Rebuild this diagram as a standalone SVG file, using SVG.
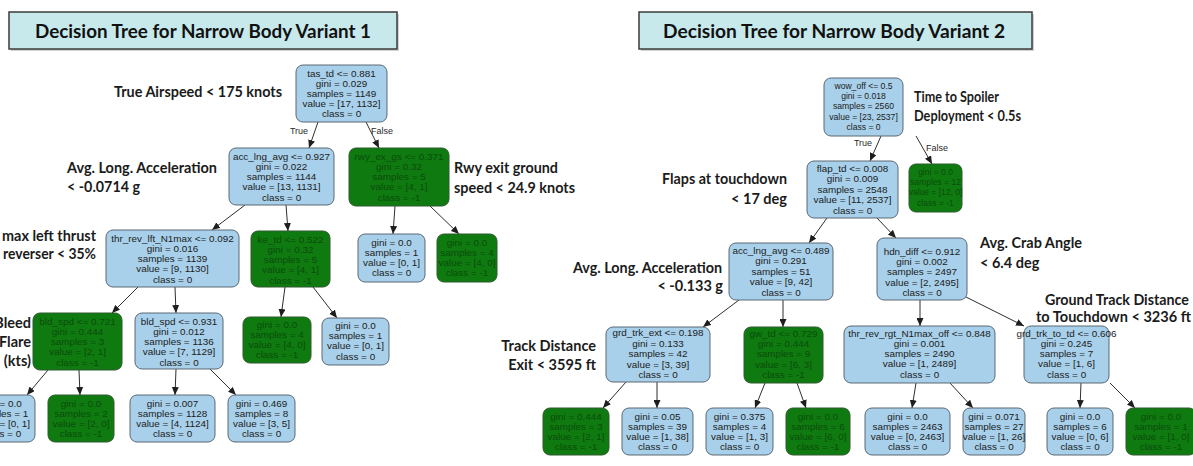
<svg xmlns="http://www.w3.org/2000/svg" width="1193" height="466" viewBox="0 0 1193 466">
  <defs>
    <marker id="arrow" markerUnits="userSpaceOnUse" markerWidth="8" markerHeight="7" refX="8" refY="3.5" orient="auto">
      <path d="M0,0 L8,3.5 L0,7 z" fill="#1e1e1e"/>
    </marker>
    <style>
      .title-box { fill: #c7e9ec; stroke: #3b3b3b; stroke-width: 1.5; }
      .title-shadow { fill: #9a9a9a; opacity: 0.45; }
      .title { font-family: Lato, "Open Sans", sans-serif; font-weight: 700; font-size: 18px; fill: #111; text-anchor: middle; }
      .ann { font-family: Lato, "Open Sans", sans-serif; font-weight: 700; font-size: 14.5px; fill: #1b1b1b; }
      .nb { fill: #a8d0ea; stroke: #5a6874; stroke-width: 1; }
      .ng { fill: #0f7a10; stroke: #2f5a2f; stroke-width: 1; }
      .t { font-family: "Liberation Sans", Arial, sans-serif; font-size: 9.9px; fill: #1c1c1c; text-anchor: middle; }
      .tg { font-family: "Liberation Sans", Arial, sans-serif; font-size: 9.9px; fill: #0a4d0b; text-anchor: middle; }
      .el { font-family: "Liberation Sans", Arial, sans-serif; font-size: 9px; fill: #2a2a2a; text-anchor: middle; }
      .edge { stroke: #2e2e2e; stroke-width: 1; fill: none; marker-end: url(#arrow); }
    </style>
  </defs>

  <rect width="1193" height="466" fill="#ffffff"/>

  <!-- Titles -->
  <g id="title-1">
    <rect class="title-shadow" x="11" y="14" width="388" height="37"/>
    <rect class="title-box" x="9" y="12" width="388" height="37"/>
    <text class="title" x="203" y="38" textLength="336" lengthAdjust="spacingAndGlyphs">Decision Tree for Narrow Body Variant 1</text>
  </g>
  <g id="title-2">
    <rect class="title-shadow" x="641" y="14" width="393" height="37"/>
    <rect class="title-box" x="639" y="12" width="393" height="37"/>
    <text class="title" x="834" y="38" textLength="342" lengthAdjust="spacingAndGlyphs">Decision Tree for Narrow Body Variant 2</text>
  </g>

  <!-- Split annotations -->
  <g id="annotations">
    <text class="ann" x="114" y="97" textLength="168" lengthAdjust="spacingAndGlyphs">True Airspeed &lt; 175 knots</text>
    <text class="ann" x="67" y="173" textLength="150" lengthAdjust="spacingAndGlyphs">Avg. Long. Acceleration</text>
    <text class="ann" x="67" y="192" textLength="73" lengthAdjust="spacingAndGlyphs">&lt; -0.0714 g</text>
    <text class="ann" x="454" y="173" textLength="104" lengthAdjust="spacingAndGlyphs">Rwy exit ground</text>
    <text class="ann" x="454" y="193" textLength="121" lengthAdjust="spacingAndGlyphs">speed &lt; 24.9 knots</text>
    <text class="ann" x="2" y="241" textLength="94" lengthAdjust="spacingAndGlyphs">max left thrust</text>
    <text class="ann" x="3" y="259" textLength="93" lengthAdjust="spacingAndGlyphs">reverser &lt; 35%</text>
    <text class="ann" x="31" y="328" text-anchor="end">Bleed</text>
    <text class="ann" x="31" y="347" text-anchor="end">Flare</text>
    <text class="ann" x="31" y="366" text-anchor="end">(kts)</text>

    <text class="ann" x="914" y="102" textLength="85" lengthAdjust="spacingAndGlyphs">Time to Spoiler</text>
    <text class="ann" x="914" y="121" textLength="107" lengthAdjust="spacingAndGlyphs">Deployment &lt; 0.5s</text>
    <text class="ann" x="662" y="184" textLength="125" lengthAdjust="spacingAndGlyphs">Flaps at touchdown</text>
    <text class="ann" x="787" y="204" text-anchor="end">&lt; 17 deg</text>
    <text class="ann" x="573" y="273" textLength="149" lengthAdjust="spacingAndGlyphs">Avg. Long. Acceleration</text>
    <text class="ann" x="723" y="291" text-anchor="end">&lt; -0.133 g</text>
    <text class="ann" x="980" y="248" textLength="102" lengthAdjust="spacingAndGlyphs">Avg. Crab Angle</text>
    <text class="ann" x="980" y="268">&lt; 6.4 deg</text>
    <text class="ann" x="1045" y="305" textLength="144" lengthAdjust="spacingAndGlyphs">Ground Track Distance</text>
    <text class="ann" x="1036" y="322" textLength="155" lengthAdjust="spacingAndGlyphs">to Touchdown &lt; 3236 ft</text>
    <text class="ann" x="596" y="351" text-anchor="end">Track Distance</text>
    <text class="ann" x="596" y="370" text-anchor="end">Exit &lt; 3595 ft</text>
  </g>

  <!-- Connectors -->
  <g id="connectors">
    <line class="edge" x1="318" y1="122" x2="309" y2="148"/>
    <line class="edge" x1="366" y1="122" x2="379" y2="148"/>
    <line class="edge" x1="245" y1="205" x2="212" y2="230"/>
    <line class="edge" x1="286" y1="205" x2="288" y2="231"/>
    <line class="edge" x1="395" y1="206" x2="393" y2="234"/>
    <line class="edge" x1="430" y1="206" x2="459" y2="234"/>
    <line class="edge" x1="138" y1="287" x2="112" y2="313"/>
    <line class="edge" x1="175" y1="287" x2="176" y2="313"/>
    <line class="edge" x1="285" y1="287" x2="281" y2="317"/>
    <line class="edge" x1="313" y1="287" x2="337" y2="318"/>
    <line class="edge" x1="48" y1="370" x2="27" y2="395"/>
    <line class="edge" x1="79" y1="370" x2="80" y2="395"/>
    <line class="edge" x1="176" y1="369" x2="175" y2="395"/>
    <line class="edge" x1="210" y1="369" x2="236" y2="395"/>

    <line class="edge" x1="881" y1="136" x2="870" y2="161"/>
    <line class="edge" x1="916" y1="136" x2="932" y2="164"/>
    <line class="edge" x1="827" y1="218" x2="809" y2="243"/>
    <line class="edge" x1="877" y1="218" x2="896" y2="238"/>
    <line class="edge" x1="739" y1="300" x2="703" y2="327"/>
    <line class="edge" x1="783" y1="300" x2="783" y2="327"/>
    <line class="edge" x1="920" y1="300" x2="920" y2="326"/>
    <line class="edge" x1="966" y1="297" x2="1024" y2="326"/>
    <line class="edge" x1="626" y1="382" x2="603" y2="408"/>
    <line class="edge" x1="657" y1="382" x2="657" y2="408"/>
    <line class="edge" x1="765" y1="383" x2="755" y2="408"/>
    <line class="edge" x1="797" y1="383" x2="806" y2="408"/>
    <line class="edge" x1="916" y1="383" x2="912" y2="408"/>
    <line class="edge" x1="950" y1="383" x2="973" y2="408"/>
    <line class="edge" x1="1081" y1="383" x2="1080" y2="408"/>
    <line class="edge" x1="1110" y1="383" x2="1135" y2="408"/>

    <text class="el" x="299" y="134">True</text>
    <text class="el" x="382" y="134">False</text>
    <text class="el" x="863" y="146">True</text>
    <text class="el" x="937" y="151">False</text>
  </g>

  <!-- Variant 1 tree -->
  <g id="v1-root">
    <rect class="nb" x="296" y="65" width="91" height="57" rx="7"/>
    <text class="t" x="341.5" y="76.5">tas_td &lt;= 0.881<tspan x="341.5" dy="10.2">gini = 0.029</tspan><tspan x="341.5" dy="10.2">samples = 1149</tspan><tspan x="341.5" dy="10.2">value = [17, 1132]</tspan><tspan x="341.5" dy="10.2">class = 0</tspan></text>
  </g>
  <g id="v1-acc-lng-avg">
    <rect class="nb" x="229" y="148" width="105" height="57" rx="7"/>
    <text class="t" x="281.5" y="159.5">acc_lng_avg &lt;= 0.927<tspan x="281.5" dy="10.3">gini = 0.022</tspan><tspan x="281.5" dy="10.3">samples = 1144</tspan><tspan x="281.5" dy="10.3">value = [13, 1131]</tspan><tspan x="281.5" dy="10.3">class = 0</tspan></text>
  </g>
  <g id="v1-rwy-ex-gs">
    <rect class="ng" x="349" y="148" width="100" height="58" rx="7"/>
    <text class="tg" x="399" y="159.5">rwy_ex_gs &lt;= 0.371<tspan x="399" dy="10.3">gini = 0.32</tspan><tspan x="399" dy="10.3">samples = 5</tspan><tspan x="399" dy="10.3">value = [4, 1]</tspan><tspan x="399" dy="10.3">class = -1</tspan></text>
  </g>
  <g id="v1-thr-rev-lft">
    <rect class="nb" x="106" y="230" width="133" height="57" rx="7"/>
    <text class="t" x="172.5" y="241.5">thr_rev_lft_N1max &lt;= 0.092<tspan x="172.5" dy="10.3">gini = 0.016</tspan><tspan x="172.5" dy="10.3">samples = 1139</tspan><tspan x="172.5" dy="10.3">value = [9, 1130]</tspan><tspan x="172.5" dy="10.3">class = 0</tspan></text>
  </g>
  <g id="v1-ke-td">
    <rect class="ng" x="251" y="231" width="79" height="56" rx="7"/>
    <text class="tg" x="290.5" y="242.5">ke_td &lt;= 0.522<tspan x="290.5" dy="10.3">gini = 0.32</tspan><tspan x="290.5" dy="10.3">samples = 5</tspan><tspan x="290.5" dy="10.3">value = [4, 1]</tspan><tspan x="290.5" dy="10.3">class = -1</tspan></text>
  </g>
  <g id="v1-leaf-rwy-a">
    <rect class="nb" x="358" y="234" width="67" height="48" rx="7"/>
    <text class="t" x="391.5" y="245.5">gini = 0.0<tspan x="391.5" dy="10.2">samples = 1</tspan><tspan x="391.5" dy="10.2">value = [0, 1]</tspan><tspan x="391.5" dy="10.2">class = 0</tspan></text>
  </g>
  <g id="v1-leaf-rwy-b">
    <rect class="ng" x="437" y="234" width="60" height="48" rx="7"/>
    <text class="tg" x="467" y="245.5">gini = 0.0<tspan x="467" dy="10.2">samples = 4</tspan><tspan x="467" dy="10.2">value = [4, 0]</tspan><tspan x="467" dy="10.2">class = -1</tspan></text>
  </g>
  <g id="v1-leaf-ke-a">
    <rect class="ng" x="243" y="317" width="68" height="46" rx="7"/>
    <text class="tg" x="277" y="327.5">gini = 0.0<tspan x="277" dy="10.2">samples = 4</tspan><tspan x="277" dy="10.2">value = [4, 0]</tspan><tspan x="277" dy="10.2">class = -1</tspan></text>
  </g>
  <g id="v1-leaf-ke-b">
    <rect class="nb" x="322" y="318" width="67" height="47" rx="7"/>
    <text class="t" x="355.5" y="329">gini = 0.0<tspan x="355.5" dy="10.2">samples = 1</tspan><tspan x="355.5" dy="10.2">value = [0, 1]</tspan><tspan x="355.5" dy="10.2">class = 0</tspan></text>
  </g>
  <g id="v1-bld-spd-a">
    <rect class="ng" x="33" y="313" width="89" height="57" rx="7"/>
    <text class="tg" x="77.5" y="324.5">bld_spd &lt;= 0.721<tspan x="77.5" dy="10.3">gini = 0.444</tspan><tspan x="77.5" dy="10.3">samples = 3</tspan><tspan x="77.5" dy="10.3">value = [2, 1]</tspan><tspan x="77.5" dy="10.3">class = -1</tspan></text>
  </g>
  <g id="v1-bld-spd-b">
    <rect class="nb" x="135" y="313" width="88" height="56" rx="7"/>
    <text class="t" x="179" y="324.5">bld_spd &lt;= 0.931<tspan x="179" dy="10.3">gini = 0.012</tspan><tspan x="179" dy="10.3">samples = 1136</tspan><tspan x="179" dy="10.3">value = [7, 1129]</tspan><tspan x="179" dy="10.3">class = 0</tspan></text>
  </g>
  <g id="v1-leaf-bld-a1">
    <rect class="nb" x="-32" y="395" width="67" height="47" rx="7"/>
    <text class="t" x="1.5" y="406.5">gini = 0.0<tspan x="1.5" dy="10.2">samples = 1</tspan><tspan x="1.5" dy="10.2">value = [0, 1]</tspan><tspan x="1.5" dy="10.2">class = 0</tspan></text>
  </g>
  <g id="v1-leaf-bld-a2">
    <rect class="ng" x="48" y="395" width="66" height="47" rx="7"/>
    <text class="tg" x="81" y="406.5">gini = 0.0<tspan x="81" dy="10.2">samples = 2</tspan><tspan x="81" dy="10.2">value = [2, 0]</tspan><tspan x="81" dy="10.2">class = -1</tspan></text>
  </g>
  <g id="v1-leaf-bld-b1">
    <rect class="nb" x="130" y="395" width="85" height="47" rx="7"/>
    <text class="t" x="172.5" y="406.5">gini = 0.007<tspan x="172.5" dy="10.2">samples = 1128</tspan><tspan x="172.5" dy="10.2">value = [4, 1124]</tspan><tspan x="172.5" dy="10.2">class = 0</tspan></text>
  </g>
  <g id="v1-leaf-bld-b2">
    <rect class="nb" x="228" y="395" width="67" height="47" rx="7"/>
    <text class="t" x="261.5" y="406.5">gini = 0.469<tspan x="261.5" dy="10.2">samples = 8</tspan><tspan x="261.5" dy="10.2">value = [3, 5]</tspan><tspan x="261.5" dy="10.2">class = 0</tspan></text>
  </g>

  <!-- Variant 2 tree -->
  <g id="v2-root">
    <rect class="nb" x="824" y="78" width="79" height="58" rx="7"/>
    <text class="t" style="font-size:8.6px" x="863.5" y="89">wow_off &lt;= 0.5<tspan x="863.5" dy="10.2">gini = 0.018</tspan><tspan x="863.5" dy="10.2">samples = 2560</tspan><tspan x="863.5" dy="10.2">value = [23, 2537]</tspan><tspan x="863.5" dy="10.2">class = 0</tspan></text>
  </g>
  <g id="v2-flap-td">
    <rect class="nb" x="807" y="161" width="91" height="57" rx="7"/>
    <text class="t" x="852.5" y="171.5">flap_td &lt;= 0.008<tspan x="852.5" dy="10.6">gini = 0.009</tspan><tspan x="852.5" dy="10.6">samples = 2548</tspan><tspan x="852.5" dy="10.6">value = [11, 2537]</tspan><tspan x="852.5" dy="10.6">class = 0</tspan></text>
  </g>
  <g id="v2-leaf-root-b">
    <rect class="ng" x="909" y="164" width="53" height="48" rx="7"/>
    <text class="tg" style="font-size:8.5px" x="935.5" y="175">gini = 0.0<tspan x="935.5" dy="10.2">samples = 12</tspan><tspan x="935.5" dy="10.2">value = [12, 0]</tspan><tspan x="935.5" dy="10.2">class = -1</tspan></text>
  </g>
  <g id="v2-acc-lng-avg">
    <rect class="nb" x="729" y="243" width="104" height="57" rx="7"/>
    <text class="t" x="781" y="253.5">acc_lng_avg &lt;= 0.489<tspan x="781" dy="10.6">gini = 0.291</tspan><tspan x="781" dy="10.6">samples = 51</tspan><tspan x="781" dy="10.6">value = [9, 42]</tspan><tspan x="781" dy="10.6">class = 0</tspan></text>
  </g>
  <g id="v2-hdn-diff">
    <rect class="nb" x="877" y="238" width="90" height="62" rx="7"/>
    <text class="t" x="922" y="254.5">hdn_diff &lt;= 0.912<tspan x="922" dy="10.4">gini = 0.002</tspan><tspan x="922" dy="10.4">samples = 2497</tspan><tspan x="922" dy="10.4">value = [2, 2495]</tspan><tspan x="922" dy="10.4">class = 0</tspan></text>
  </g>
  <g id="v2-grd-trk-ext">
    <rect class="nb" x="606" y="327" width="104" height="55" rx="7"/>
    <text class="t" x="658" y="336.3">grd_trk_ext &lt;= 0.198<tspan x="658" dy="10.4">gini = 0.133</tspan><tspan x="658" dy="10.4">samples = 42</tspan><tspan x="658" dy="10.4">value = [3, 39]</tspan><tspan x="658" dy="10.4">class = 0</tspan></text>
  </g>
  <g id="v2-gw-td">
    <rect class="ng" x="744" y="327" width="79" height="56" rx="7"/>
    <text class="tg" x="783.5" y="336.5">gw_td &lt;= 0.729<tspan x="783.5" dy="10.4">gini = 0.444</tspan><tspan x="783.5" dy="10.4">samples = 9</tspan><tspan x="783.5" dy="10.4">value = [6, 3]</tspan><tspan x="783.5" dy="10.4">class = -1</tspan></text>
  </g>
  <g id="v2-thr-rev-rgt">
    <rect class="nb" x="844" y="326" width="151" height="57" rx="7"/>
    <text class="t" x="919.5" y="336.5">thr_rev_rgt_N1max_off &lt;= 0.848<tspan x="919.5" dy="10.3">gini = 0.001</tspan><tspan x="919.5" dy="10.3">samples = 2490</tspan><tspan x="919.5" dy="10.3">value = [1, 2489]</tspan><tspan x="919.5" dy="10.3">class = 0</tspan></text>
  </g>
  <g id="v2-grd-trk-to-td">
    <rect class="nb" x="1024" y="326" width="85" height="57" rx="7"/>
    <text class="t" x="1066.5" y="336.5">grd_trk_to_td &lt;= 0.606<tspan x="1066.5" dy="10.3">gini = 0.245</tspan><tspan x="1066.5" dy="10.3">samples = 7</tspan><tspan x="1066.5" dy="10.3">value = [1, 6]</tspan><tspan x="1066.5" dy="10.3">class = 0</tspan></text>
  </g>
  <g id="v2-leaf-1">
    <rect class="ng" x="543" y="408" width="66" height="47" rx="7"/>
    <text class="tg" x="576" y="419.5">gini = 0.444<tspan x="576" dy="10.2">samples = 3</tspan><tspan x="576" dy="10.2">value = [2, 1]</tspan><tspan x="576" dy="10.2">class = -1</tspan></text>
  </g>
  <g id="v2-leaf-2">
    <rect class="nb" x="622" y="408" width="71" height="47" rx="7"/>
    <text class="t" x="657.5" y="419.5">gini = 0.05<tspan x="657.5" dy="10.2">samples = 39</tspan><tspan x="657.5" dy="10.2">value = [1, 38]</tspan><tspan x="657.5" dy="10.2">class = 0</tspan></text>
  </g>
  <g id="v2-leaf-3">
    <rect class="nb" x="706" y="408" width="67" height="47" rx="7"/>
    <text class="t" x="739.5" y="419.5">gini = 0.375<tspan x="739.5" dy="10.2">samples = 4</tspan><tspan x="739.5" dy="10.2">value = [1, 3]</tspan><tspan x="739.5" dy="10.2">class = 0</tspan></text>
  </g>
  <g id="v2-leaf-4">
    <rect class="ng" x="786" y="408" width="64" height="47" rx="7"/>
    <text class="tg" x="818" y="419.5">gini = 0.0<tspan x="818" dy="10.2">samples = 6</tspan><tspan x="818" dy="10.2">value = [6, 0]</tspan><tspan x="818" dy="10.2">class = -1</tspan></text>
  </g>
  <g id="v2-leaf-5">
    <rect class="nb" x="865" y="408" width="85" height="47" rx="7"/>
    <text class="t" x="907.5" y="419.5">gini = 0.0<tspan x="907.5" dy="10.2">samples = 2463</tspan><tspan x="907.5" dy="10.2">value = [0, 2463]</tspan><tspan x="907.5" dy="10.2">class = 0</tspan></text>
  </g>
  <g id="v2-leaf-6">
    <rect class="nb" x="963" y="408" width="62" height="47" rx="7"/>
    <text class="t" x="994" y="419.5">gini = 0.071<tspan x="994" dy="10.2">samples = 27</tspan><tspan x="994" dy="10.2">value = [1, 26]</tspan><tspan x="994" dy="10.2">class = 0</tspan></text>
  </g>
  <g id="v2-leaf-7">
    <rect class="nb" x="1047" y="408" width="66" height="47" rx="7"/>
    <text class="t" x="1080" y="419.5">gini = 0.0<tspan x="1080" dy="10.2">samples = 6</tspan><tspan x="1080" dy="10.2">value = [0, 6]</tspan><tspan x="1080" dy="10.2">class = 0</tspan></text>
  </g>
  <g id="v2-leaf-8">
    <rect class="ng" x="1126" y="408" width="70" height="47" rx="7"/>
    <text class="tg" x="1161" y="419.5">gini = 0.0<tspan x="1161" dy="10.2">samples = 1</tspan><tspan x="1161" dy="10.2">value = [1, 0]</tspan><tspan x="1161" dy="10.2">class = -1</tspan></text>
  </g>
</svg>
